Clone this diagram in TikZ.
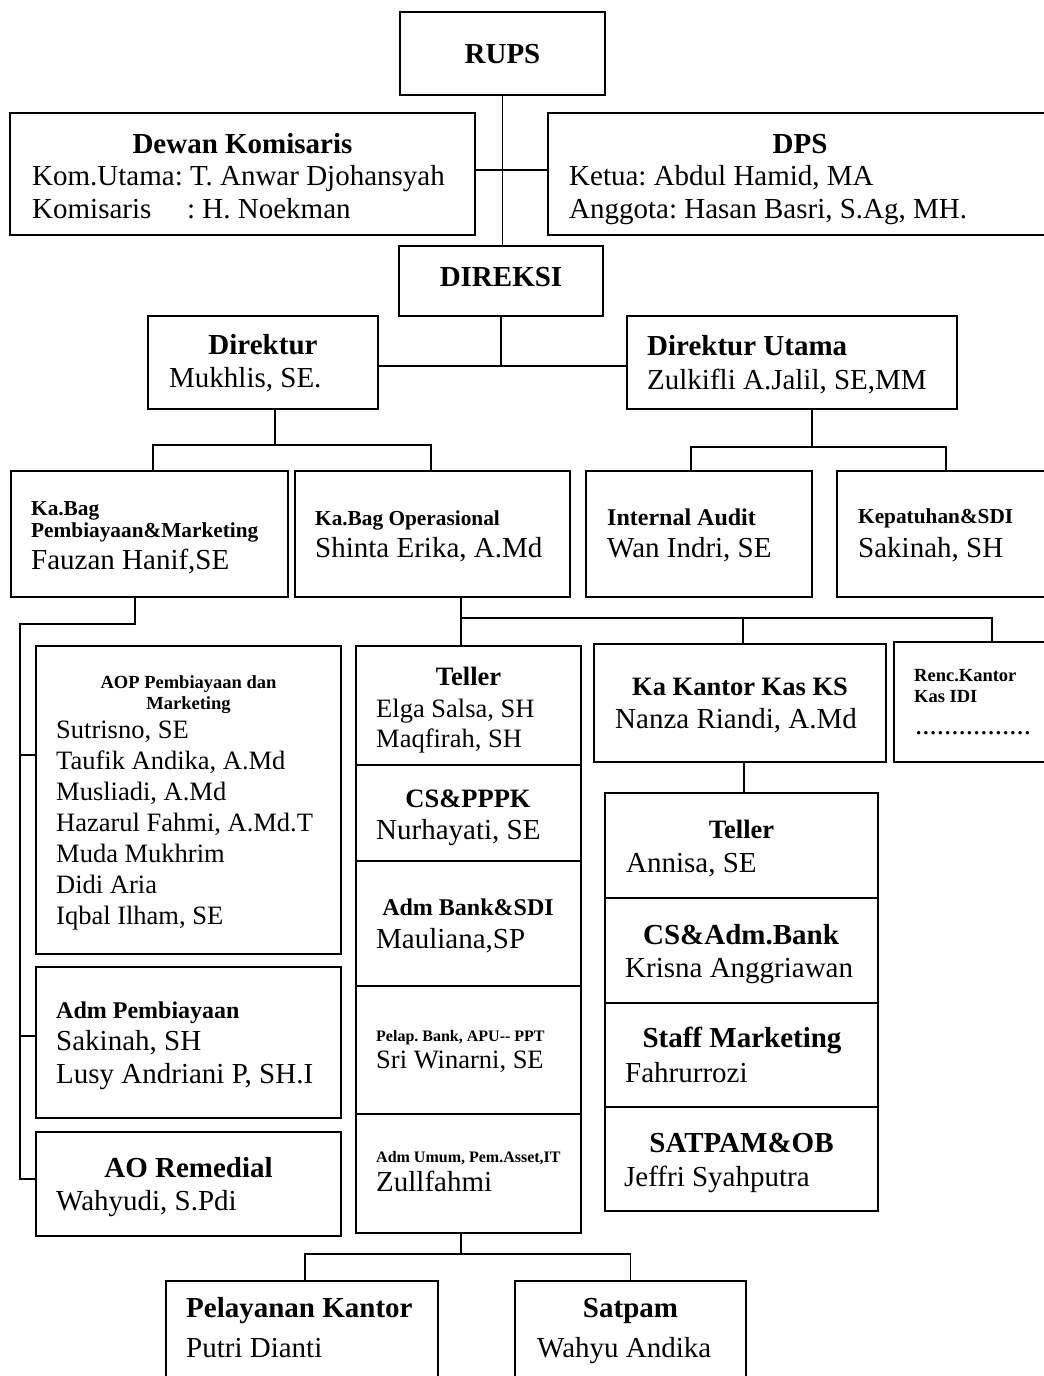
\documentclass[tikz,border=0pt]{standalone}
\usepackage{fontspec}
\setmainfont{Liberation Serif}
\usetikzlibrary{fit,calc}
\frenchspacing
\newcommand\fsA{\fontsize{29}{33}\selectfont}
\newcommand\fsB{\fontsize{26.5}{31}\selectfont}
\newcommand\fsC{\fontsize{24}{28}\selectfont}
\newcommand\fsD{\fontsize{21.3}{24}\selectfont}
\newcommand\fsE{\fontsize{18.5}{21}\selectfont}
\newcommand\fsF{\fontsize{16}{19}\selectfont}
\begin{document}
\begin{tikzpicture}[x=1pt,y=-1pt,
  bx/.style={draw, line width=1.4pt, inner sep=0pt},
  ln/.style={line width=1.4pt},
  tl/.style={inner sep=0pt, anchor=base west, execute at begin node=\frenchspacing},
  tc/.style={inner sep=0pt, anchor=base, execute at begin node=\frenchspacing}]
\useasboundingbox (0,0) rectangle (1044,1376);
\clip (0,0) rectangle (1044,1376);
\fill[white] (0,0) rectangle (1044,1376);

% boxes
\node[bx, fit={(400,12)(605,95)}] (rups) {};
\node[bx, fit={(10,113)(475,235)}] (dewan) {};
\node[bx, fit={(548,113)(1052,235)}] (dps) {};
\node[bx, fit={(399,246)(603,316)}] (direksi) {};
\node[bx, fit={(148,316)(378,409)}] (direktur) {};
\node[bx, fit={(627,316)(957,409)}] (dirut) {};
\node[bx, fit={(11,471)(288,597)}] (kabag1) {};
\node[bx, fit={(295,471)(570,597)}] (kabag2) {};
\node[bx, fit={(586,471)(812,597)}] (audit) {};
\node[bx, fit={(837,471)(1052,597)}] (kepat) {};
\node[bx, fit={(36,646)(341,954)}] (aop) {};
\node[bx, fit={(36,967)(341,1118)}] (admp) {};
\node[bx, fit={(36,1132)(341,1236)}] (aorem) {};
\node[bx, fit={(356,646)(581,765)}] (tel) {};
\node[bx, fit={(356,765)(581,861)}] (cs) {};
\node[bx, fit={(356,861)(581,986)}] (admb) {};
\node[bx, fit={(356,986)(581,1114)}] (pelap) {};
\node[bx, fit={(356,1114)(581,1233)}] (admu) {};
\node[bx, fit={(594,644)(886,762)}] (kakas) {};
\node[bx, fit={(894,642)(1052,762)}] (renc) {};
\node[bx, fit={(605,793)(878,898)}] (ktel) {};
\node[bx, fit={(605,898)(878,1003)}] (kcs) {};
\node[bx, fit={(605,1003)(878,1107)}] (kstaff) {};
\node[bx, fit={(605,1107)(878,1211)}] (ksat) {};
\node[bx, fit={(166,1281)(438,1395)}] (pel) {};
\node[bx, fit={(515,1281)(746,1395)}] (sat) {};

% connectors
\coordinate (hk) at (502,170);
\coordinate (hd) at (502,366);
\coordinate (b1) at (275,445);
\coordinate (b2) at (812,447);
\coordinate (b3) at (20,624);
\coordinate (j1) at (20,755);
\coordinate (j2) at (20,1036);
\coordinate (j3) at (20,1179);
\coordinate (b4) at (461,618);
\coordinate (b5) at (992,618);
\coordinate (b7) at (743,618);
\coordinate (b8) at (744,762);
\coordinate (b6) at (461,1254);

\draw[ln] (rups.south) -- (rups.south |- direksi.north);
\draw[ln] (hk -| dewan.east) -- (hk -| dps.west);
\draw[ln] (direksi.south) -- (direksi.south |- hd);
\draw[ln] (hd -| direktur.east) -- (hd -| dirut.west);
\draw[ln] (b1 |- direktur.south) -- (b1);
\draw[ln] ([xshift=3.5pt]kabag1.north) |- (b1) -| ([xshift=-1.5pt]kabag2.north);
\draw[ln] (b2 |- dirut.south) -- (b2);
\draw[ln] ([xshift=-8pt]audit.north) |- (b2) -| ([xshift=1.5pt]kepat.north);
\draw[ln] ([xshift=-14.5pt]kabag1.south) |- (b3) -- (j3) -- (j3 -| aorem.west);
\draw[ln] (j1) -- (j1 -| aop.west);
\draw[ln] (j2) -- (j2 -| admp.west);
\draw[ln] ([xshift=28.5pt]kabag2.south) -- (b4 |- tel.north);
\draw[ln] (b4) -- (b5) -- (b5 |- renc.north);
\draw[ln] (b7) -- (b7 |- kakas.north);
\draw[ln] (b8 |- kakas.south) -- (b8 |- ktel.north);
\draw[ln] (b6 |- admu.south) -- (b6);
\draw[ln] ([xshift=3pt]pel.north) |- (b6) -| (sat.north);

% texts
\node[tc, font=\fsA\bfseries] (t1) at (502.5,63) {RUPS};
\node[tc, font=\fsA\bfseries] (t2) at (242.5,153) {Dewan Komisaris};
\node[tl, font=\fsA] (t3) at (32,185) {Kom.Utama: T. Anwar Djohansyah};
\node[tl, font=\fsA] (t4) at (32,218) {\makebox[155pt][l]{Komisaris}: H. Noekman};
\node[tc, font=\fsA\bfseries] (t5) at (800,153) {DPS};
\node[tl, font=\fsA] (t6) at (569,185) {Ketua: Abdul Hamid, MA};
\node[tl, font=\fsA] (t7) at (569,218) {Anggota: Hasan Basri, S.Ag, MH.};
\node[tc, font=\fsA\bfseries] (t8) at (501,286) {DIREKSI};
\node[tc, font=\fsA\bfseries] (t9) at (263,354) {Direktur};
\node[tl, font=\fsA] (t10) at (169,387) {Mukhlis, SE.};
\node[tl, font=\fsA\bfseries] (t11) at (647,355) {Direktur Utama};
\node[tl, font=\fsA] (t12) at (647,389) {Zulkifli A.Jalil, SE,MM};

\node[tl, font=\fsD\bfseries] (t13) at (31,515) {Ka.Bag};
\node[tl, font=\fsD\bfseries] (t14) at (31,537) {Pembiayaan\&Marketing};
\node[tl, font=\fsA] (t15) at (31,569) {Fauzan Hanif,SE};
\node[tl, font=\fsD\bfseries] (t16) at (315,525) {Ka.Bag Operasional};
\node[tl, font=\fsA] (t17) at (315,557) {Shinta Erika, A.Md};
\node[tl, font=\fsC\bfseries] (t18) at (607,525) {Internal Audit};
\node[tl, font=\fsA] (t19) at (607,557) {Wan Indri, SE};
\node[tl, font=\fsD\bfseries] (t20) at (858,523) {Kepatuhan\&SDI};
\node[tl, font=\fsA] (t21) at (858,557) {Sakinah, SH};

\node[tc, font=\fsE\bfseries] (t22) at (188.5,688) {AOP Pembiayaan dan};
\node[tc, font=\fsE\bfseries] (t23) at (188.5,709) {Marketing};
\node[tl, font=\fsB] (t24) at (56,738) {Sutrisno, SE};
\node[tl, font=\fsB] (t25) at (56,769) {Taufik Andika, A.Md};
\node[tl, font=\fsB] (t26) at (56,800) {Musliadi, A.Md};
\node[tl, font=\fsB] (t27) at (56,831) {Hazarul Fahmi, A.Md.T};
\node[tl, font=\fsB] (t28) at (56,862) {Muda Mukhrim};
\node[tl, font=\fsB] (t29) at (56,893) {Didi Aria};
\node[tl, font=\fsB] (t30) at (56,924) {Iqbal Ilham, SE};

\node[tl, font=\fsC\bfseries] (t31) at (56,1018) {Adm Pembiayaan};
\node[tl, font=\fsA] (t32) at (56,1050) {Sakinah, SH};
\node[tl, font=\fsA] (t33) at (56,1083) {Lusy Andriani P, SH.I};
\node[tc, font=\fsA\bfseries] (t34) at (188.5,1177) {AO Remedial};
\node[tl, font=\fsA] (t35) at (56,1210) {Wahyudi, S.Pdi};

\node[tc, font=\fsB\bfseries] (t36) at (468.5,685) {Teller};
\node[tl, font=\fsB] (t37) at (376,717) {Elga Salsa, SH};
\node[tl, font=\fsB] (t38) at (376,747) {Maqfirah, SH};
\node[tc, font=\fsB\bfseries] (t39) at (468,807) {CS\&PPPK};
\node[tl, font=\fsA] (t40) at (376,839) {Nurhayati, SE};
\node[tc, font=\fsC\bfseries] (t41) at (468,915) {Adm Bank\&SDI};
\node[tl, font=\fsA] (t42) at (376,948) {Mauliana,SP};
\node[tl, font=\fsF\bfseries] (t43) at (376,1041) {Pelap. Bank, APU-{}- PPT};
\node[tl, font=\fsB] (t44) at (376,1068) {Sri Winarni, SE};
\node[tl, font=\fsF\bfseries] (t45) at (376,1162) {Adm Umum, Pem.Asset,IT};
\node[tl, font=\fsA] (t46) at (376,1191) {Zullfahmi};

\node[tc, font=\fsB\bfseries] (t47) at (740,695) {Ka Kantor Kas KS};
\node[tl, font=\fsA] (t48) at (615,728) {Nanza Riandi, A.Md};
\node[tl, font=\fsE\bfseries] (t49) at (914,681) {Renc.Kantor};
\node[tl, font=\fsE\bfseries] (t50) at (914,702) {Kas IDI};
\node[tl, font=\fsA] (t51) at (915,734) {................};

\node[tc, font=\fsB\bfseries] (t52) at (741.5,838) {Teller};
\node[tl, font=\fsA] (t53) at (626,872) {Annisa, SE};
\node[tc, font=\fsA\bfseries] (t54) at (741,944) {CS\&Adm.Bank};
\node[tl, font=\fsA] (t55) at (625,977) {Krisna Anggriawan};
\node[tc, font=\fsA\bfseries] (t56) at (742,1047) {Staff Marketing};
\node[tl, font=\fsA] (t57) at (625,1082) {Fahrurrozi};
\node[tc, font=\fsA\bfseries] (t58) at (741.5,1152) {SATPAM\&OB};
\node[tl, font=\fsA] (t59) at (624,1186) {Jeffri Syahputra};

\node[tl, font=\fsA\bfseries] (t60) at (186,1317) {Pelayanan Kantor};
\node[tl, font=\fsA] (t61) at (186,1357) {Putri Dianti};
\node[tc, font=\fsA\bfseries] (t62) at (630.5,1317) {Satpam};
\node[tl, font=\fsA] (t63) at (537,1357) {Wahyu Andika};
\end{tikzpicture}
\end{document}
